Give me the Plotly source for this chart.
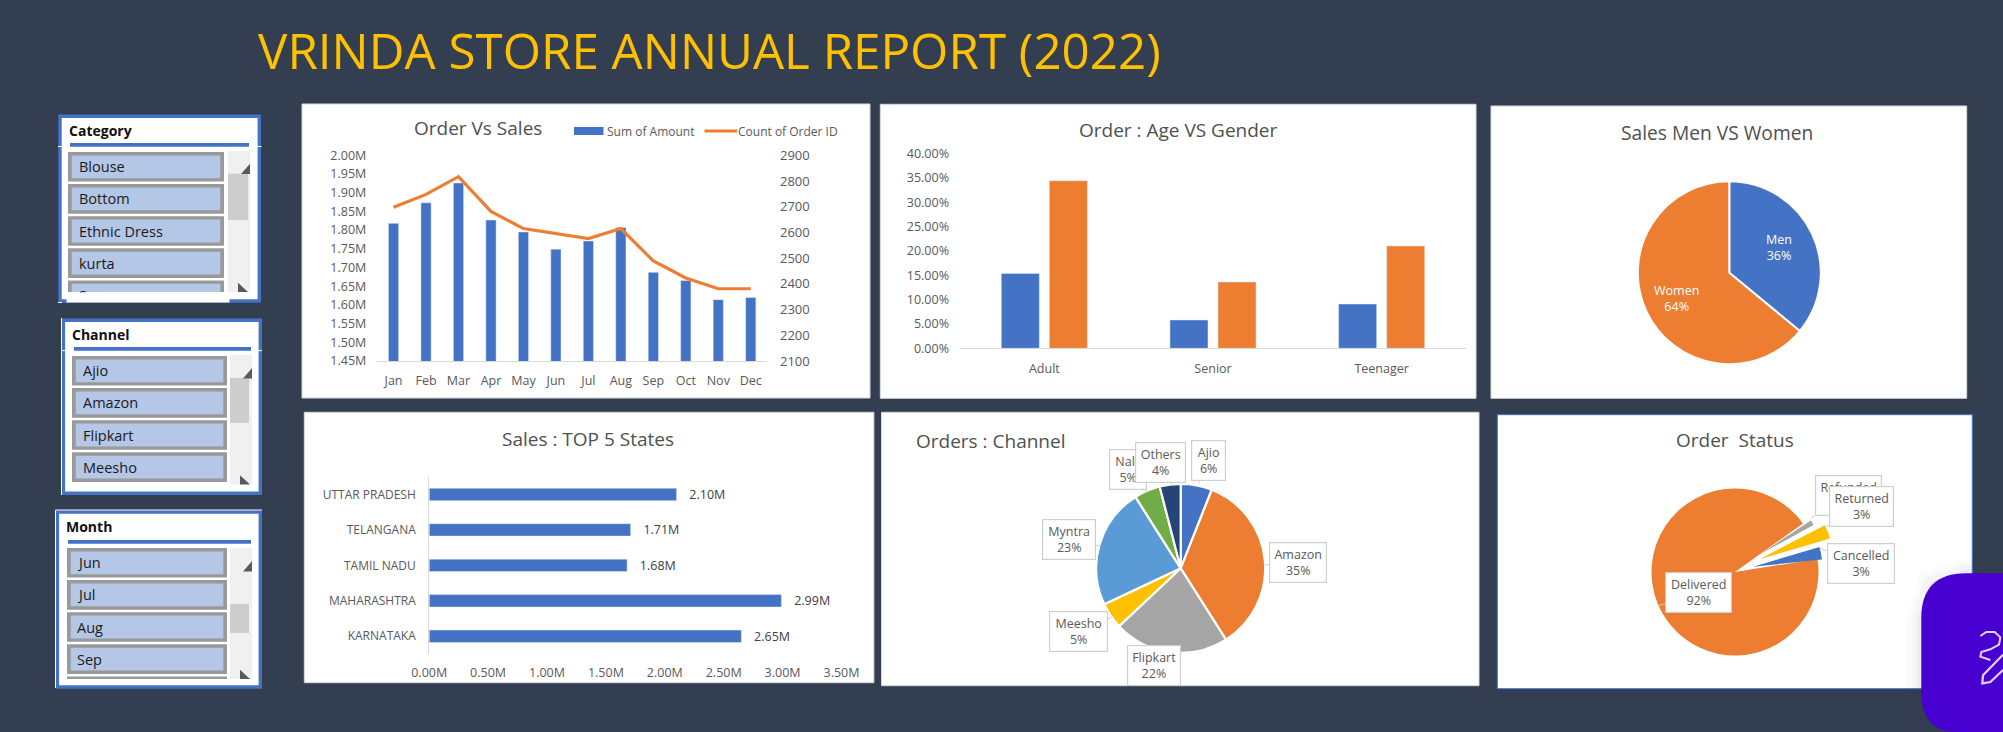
import plotly.graph_objects as go

# ---------- data ----------
months = ["Jan", "Feb", "Mar", "Apr", "May", "Jun", "Jul", "Aug", "Sep", "Oct", "Nov", "Dec"]
sales_m = [1.818, 1.873, 1.926, 1.827, 1.795, 1.749, 1.771, 1.807, 1.687, 1.665, 1.614, 1.620]
orders = [2698, 2748, 2817, 2682, 2615, 2595, 2576, 2615, 2489, 2423, 2381, 2381]

ages = ["Adult", "Senior", "Teenager"]
men_pct = [15.40, 5.82, 9.10]
women_pct = [34.45, 13.63, 21.03]

gender_labels = ["Men", "Women"]
gender_vals = [36, 64]

states = ["KARNATAKA", "MAHARASHTRA", "TAMIL NADU", "TELANGANA", "UTTAR PRADESH"]
state_sales = [2.65, 2.99, 1.68, 1.71, 2.10]

channels = ["Ajio", "Amazon", "Flipkart", "Meesho", "Myntra", "Nalli", "Others"]
channel_vals = [6, 35, 22, 5, 23, 5, 4]

status_labels = ["Delivered", "Refunded", "Returned", "Cancelled"]
status_vals = [91.7, 1.3, 3.1, 2.9]

slicer_category = ["Blouse", "Bottom", "Ethnic Dress", "kurta", "Saree"]
slicer_channel = ["Ajio", "Amazon", "Flipkart", "Meesho"]
slicer_month = ["Jun", "Jul", "Aug", "Sep"]

# ---------- style ----------
BLUE, ORANGE, GREY, GOLD = "#4472c4", "#ed7d31", "#a5a5a5", "#ffc000"
LBLUE, GREEN, NAVY = "#5b9bd5", "#70ad47", "#264478"
BG = "#333f50"
TXT = "#595959"
TITLE = "#505050"
W, H = 2003, 732
FONT = "Open Sans"


def px(x):
    return x / W


def py(y):
    return 1 - y / H


shapes, annos = [], []


def rect(x0, y0, x1, y1, fill=None, line=None, lw=0, layer="below"):
    shapes.append(dict(type="rect", xref="paper", yref="paper", x0=px(x0), x1=px(x1),
                       y0=py(y0), y1=py(y1), fillcolor=fill or "rgba(0,0,0,0)",
                       line=dict(color=line or "rgba(0,0,0,0)", width=lw), layer=layer))


def hline(x0, y0, x1, y1, color, lw=1):
    shapes.append(dict(type="line", xref="paper", yref="paper", x0=px(x0), x1=px(x1),
                       y0=py(y0), y1=py(y1), line=dict(color=color, width=lw), layer="below"))


def path(d, fill=None, line=None, lw=0, layer="below"):
    shapes.append(dict(type="path", path=d, xref="paper", yref="paper",
                       fillcolor=fill or "rgba(0,0,0,0)",
                       line=dict(color=line or "rgba(0,0,0,0)", width=lw), layer=layer))


def pts(points, close=True):
    s = " ".join(("M" if i == 0 else "L") + f" {px(x):.6f} {py(y):.6f}" for i, (x, y) in enumerate(points))
    return s + (" Z" if close else "")


def text(x, y, s, size=12.5, color=TXT, anchor="center", bold=False, bg=None):
    if anchor == "left":
        x -= 2.2
    annos.append(dict(xref="paper", yref="paper", x=px(x), y=py(y), text=f"<b>{s}</b>" if bold else s,
                      showarrow=False, xanchor=anchor, yanchor="middle",
                      font=dict(size=size, color=color, family=FONT), bgcolor=bg))


def callout(cx, cy, w, h, s, tip=None):
    a = dict(xref="paper", yref="paper", text=s, align="center",
             font=dict(size=12.5, color=TXT, family=FONT), bgcolor="white",
             bordercolor="#cfcfcf", borderwidth=1.2, borderpad=0, width=w, height=h,
             valign="middle")
    if tip:
        a.update(x=px(tip[0]), y=py(tip[1]), ax=cx - tip[0], ay=cy - tip[1], showarrow=True,
                 arrowhead=0, arrowwidth=1, arrowcolor="#cfcfcf", standoff=0, startstandoff=0)
    else:
        a.update(x=px(cx), y=py(cy), showarrow=False, xanchor="center", yanchor="middle")
    annos.append(a)


def pie_domain(cx, cy, r):
    return dict(x=[px(cx - r), px(cx + r)], y=[py(cy + r), py(cy - r)])


def slicer(x0, y0, x1, y1, title, head_x, head_y, rule, ix0, ix1, itop, labels, text_x, sb, thumb,
           partial=None, clip=None, whites=()):
    rect(x0, y0, x1, y1, fill=BLUE)
    rect(x0 + 3.4, y0 + 3.4, x1 - 3.4, y1 - 3.4, fill="white")
    for w in whites:
        hline(*w, "white", 1)
    text(head_x, head_y, title, size=14, color="#111111", anchor="left", bold=True)
    rect(rule[0], rule[1], rule[2], rule[1] + 3.8, fill=BLUE)
    pitch, hgt = 32.1, 29.6
    for i, lab in enumerate(labels):
        t = itop + i * pitch
        b = t + hgt
        if clip and b > clip:
            b = clip
        rect(ix0, t, ix1, b, fill="#999999")
        rect(ix0 + 3.7, t + 3.4, ix1 - 3.7, min(b, t + hgt - 3.4), fill="#b4c7e7")
        text(text_x, t + hgt / 2, lab, size=14.5, color="#1a1a1a", anchor="left")
    if partial:
        rect(ix0, partial[0], ix1, partial[1], fill="#999999")
    if clip:
        annos.append(dict(xref="paper", yref="paper", x=px(ix0 - 2), y=py(clip), xanchor="left",
                          yanchor="top", text="\u00a0", showarrow=False, bgcolor="white",
                          width=ix1 - ix0 + 4, height=y1 - 3.4 - clip))
    rect(sb[0], sb[1], sb[2], sb[3], fill="#f0f0f0")
    rect(thumb[0], thumb[1], thumb[2], thumb[3], fill="#cdcdcd")
    path(pts([(sb[2], sb[1] + 13), (sb[2], sb[1] + 23.4), (sb[2] - 9, sb[1] + 23.4)]), fill="#5a5a5a")
    path(pts([(sb[2] - 12, sb[3] - 9.3), (sb[2] - 12, sb[3]), (sb[2] - 2, sb[3])]), fill="#5a5a5a")


# ---------- page furniture ----------
text(709, 49, "VRINDA STORE ANNUAL REPORT (2022)", size=49.3, color=GOLD)

cards = [(302, 104, 870, 398), (880.3, 104.3, 1476, 398.3), (1491, 106, 1966.7, 398.3),
         (304.3, 412.3, 873.9, 682.7), (881.5, 412.3, 1479, 685.7)]
for c in cards:
    rect(*c, fill="white", line="#d3d7de", lw=1)
rect(1497.3, 414.7, 1972.3, 688.7, fill="white", line=BLUE, lw=1)

slicer(58.3, 114.5, 261, 302.7, "Category", 68.7, 130.7, (70, 143, 249), 68, 224, 152,
       slicer_category, 79.3, (228, 150.7, 250, 292), (228, 173.7, 248, 220), clip=292,
       whites=[(58, 146.5, 261.5, 146.5), (58, 302.5, 62, 302.5)])
slicer(61.7, 318.5, 262, 495, "Channel", 72.3, 334.8, (74, 347, 251), 72, 227, 356,
       slicer_channel, 82.7, (230, 355, 252, 484.6), (230, 377.9, 249, 423),
       whites=[(61.5, 350.6, 262, 350.6), (61.5, 318, 61.5, 495)])
slicer(55.7, 510.3, 262, 688.7, "Month", 66.3, 526.5, (68, 540, 251), 67, 227, 548,
       slicer_month, 77, (230, 548, 252, 679), (230, 604, 249, 633), partial=(676.4, 679),
       whites=[(55.5, 510, 262, 510), (55.5, 510, 55.5, 688)])

# titles
text(478, 127.5, "Order Vs Sales", size=19, color=TITLE)
text(1178, 130, "Order : Age VS Gender", size=19, color=TITLE)
text(1716.7, 132.7, "Sales Men VS Women", size=19.2, color=TITLE)
text(588.3, 439, "Sales : TOP 5 States", size=19, color=TITLE)
text(916, 441, "Orders : Channel", size=19, color=TITLE, anchor="left")
text(1735, 440, "Order \u00a0Status", size=19, color=TITLE)

# combo chart key
rect(574, 127, 603.5, 135, fill=BLUE)
text(607, 131, "Sum of Amount", size=12, anchor="left")
hline(704.5, 131, 737, 131, ORANGE, 3.2)
text(738.5, 131, "Count of Order ID", size=12, anchor="left")

fig = go.Figure()

# ---------- combo chart ----------
fig.add_bar(x=months, y=sales_m, name="Sum of Amount", marker_color=BLUE, xaxis="x", yaxis="y", hoverinfo="skip",
            showlegend=False, width=0.315)
fig.add_scatter(x=months, y=orders, name="Count of Order ID", mode="lines", xaxis="x", yaxis="y2", showlegend=False,
                line=dict(color=ORANGE, width=3.2), hoverinfo="skip")

# ---------- clustered columns ----------
fig.add_bar(x=ages, y=men_pct, name="Men", marker_color=BLUE, xaxis="x2", yaxis="y3", showlegend=False,
            offsetgroup="m", hoverinfo="skip", width=0.2256, offset=-0.2553)
fig.add_bar(x=ages, y=women_pct, name="Women", marker_color=ORANGE, xaxis="x2", yaxis="y3", showlegend=False,
            offsetgroup="w", hoverinfo="skip", width=0.2256, offset=0.0297)

# ---------- states ----------
fig.add_bar(y=states, x=state_sales, orientation="h", marker_color=BLUE, xaxis="x3", yaxis="y4", showlegend=False,
            width=0.35, text=[f"\u00a0\u00a0\u00a0{v:.2f}M" for v in state_sales], textposition="outside", cliponaxis=False,
            constraintext="none", textfont=dict(size=12.5, color="#404040", family=FONT), hoverinfo="skip")

# ---------- pies ----------
fig.add_pie(labels=gender_labels, values=gender_vals, sort=False, direction="clockwise", rotation=0,
            marker=dict(colors=[BLUE, ORANGE], line=dict(color="white", width=2)), textinfo="none",
            domain=pie_domain(1729.3, 272.7, 91.5), showlegend=False, hoverinfo="skip")
text(1779, 248, f"{gender_labels[0]}<br>{gender_vals[0]}%", size=12.5, color="white")
text(1676, 299, f"{gender_labels[1]}<br>{gender_vals[1]}%", size=12.5, color="white")

fig.add_pie(labels=channels, values=channel_vals, sort=False, direction="clockwise", rotation=0,
            marker=dict(colors=[BLUE, ORANGE, GREY, GOLD, LBLUE, GREEN, NAVY], line=dict(color="white", width=2.2)),
            textinfo="none", domain=pie_domain(1180.7, 568.3, 84.5), showlegend=False, hoverinfo="skip")


def ch(i):
    return f"{channels[i]}<br>{channel_vals[i]}%"


callout(1127.5, 469, 36, 39, ch(5), tip=(1148, 492.7))
callout(1160, 463, 49, 39, ch(6), tip=(1173.5, 486))
callout(1208.5, 460.5, 33, 39, ch(0), tip=(1198.4, 483.7))
callout(1298, 562, 56, 39, ch(1), tip=(1265, 565))
callout(1154, 665.5, 52, 39, ch(2))
callout(1078.5, 631.5, 57, 39, ch(3), tip=(1112, 617))
callout(1069, 539.5, 52, 39, ch(4), tip=(1100, 546))

status_colors = [ORANGE, GREY, GOLD, BLUE]
status_geo = [(1735, 572, 83.5, 81), (1760, 554.3, 61, 83), (1760, 559, 73, 84.3), (1753.3, 566.7, 69, 84)]
for k, (cx, cy, r, rot) in enumerate(status_geo):
    cols = [status_colors[j] if j == k else "rgba(0,0,0,0)" for j in range(4)]
    fig.add_pie(labels=status_labels, values=status_vals, sort=False, direction="clockwise", rotation=rot,
                marker=dict(colors=cols, line=dict(width=0)), textinfo="none",
                domain=pie_domain(cx, cy, r), showlegend=False, hoverinfo="skip")


def st(i):
    return f"{status_labels[i]}<br>{status_vals[i]:.0f}%"


callout(1848.5, 495.5, 65, 39, st(1), tip=(1810.7, 518.3))
callout(1861.7, 506.5, 63, 39, st(2), tip=(1825.7, 526.7))
callout(1861.3, 563.7, 66, 39, st(3), tip=(1820, 548.3))
callout(1698.5, 592.8, 65, 39, st(0), tip=(1657.7, 606))

# ---------- badge ----------
bl, bt, rad = 1921.3, 573.3, 45
for grow, alpha in [(14, 0.02), (9, 0.03), (4, 0.05)]:
    path(pts([(W, bt - grow), (bl + rad, bt - grow), (bl + 13 - grow, bt + 13 - grow), (bl - grow, bt + rad),
              (bl - grow, H), (W, H)]), fill=f"rgba(60,60,80,{alpha})", layer="above")
path(f"M {px(W)} {py(bt)} L {px(bl + rad)} {py(bt)} Q {px(bl)} {py(bt)} {px(bl)} {py(bt + rad)} "
     f"L {px(bl)} {py(H - 40)} Q {px(bl)} {py(H)} {px(bl + 35)} {py(H)} L {px(W)} {py(H)} Z",
     fill="#4700d0", layer="above")
ix, iy = 1903, 560
sq = [(232, 228), (250, 216), (275, 216), (292, 232), (288, 254), (262, 268), (235, 276), (232, 290), (262, 300)]
path(pts([(ix + a / 3, iy + b / 3) for a, b in sq], close=False), line="#e3d4ff", lw=2, layer="above")
pen = [(300, 284), (240, 346), (238, 370), (262, 366), (300, 330)]
path(pts([(ix + a / 3, iy + b / 3) for a, b in pen], close=False), line="#e3d4ff", lw=2.2, layer="above")

# ---------- layout ----------
tick = dict(size=12.5, color=TXT, family=FONT)
AX = "#d9d9d9"
fig.update_layout(
    width=W, height=H, margin=dict(l=0, r=0, t=0, b=0, autoexpand=False), autosize=False,
    paper_bgcolor=BG, plot_bgcolor="rgba(0,0,0,0)", font=dict(family=FONT, color=TXT),
    barmode="overlay", shapes=shapes, annotations=annos, showlegend=False,
    xaxis=dict(domain=[px(377.3), px(767)], anchor="y", showgrid=False, tickfont=tick, linecolor=AX, showline=True,
               ticks="", ticklabelstandoff=8, categoryorder="array", categoryarray=months),
    yaxis=dict(domain=[py(361), py(155.3)], anchor="x", range=[1.45, 2.00], dtick=0.05, tick0=1.45, showgrid=False,
               tickformat=".2f", ticksuffix="M", tickfont=tick, ticks="", zeroline=False, ticklabelstandoff=10),
    yaxis2=dict(domain=[py(361), py(155.3)], anchor="x", overlaying="y", side="right", range=[2100, 2900], dtick=100,
                showgrid=False, tickfont=dict(size=13, color=TXT, family=FONT), ticks="", zeroline=False,
                ticklabelstandoff=12),
    xaxis2=dict(domain=[px(960), px(1466)], anchor="y3", showgrid=False, tickfont=tick, linecolor=AX, showline=True,
                ticks="", ticklabelstandoff=9),
    yaxis3=dict(domain=[py(348.3), py(153.7)], anchor="x2", range=[0, 40], dtick=5, showgrid=False, tickformat=".2f",
                ticksuffix="%", tickfont=tick, ticks="", zeroline=False, ticklabelstandoff=10),
    xaxis3=dict(domain=[px(429.2), px(841.5)], anchor="y4", range=[0, 3.5], dtick=0.5, showgrid=False, tickformat=".2f",
                ticksuffix="M", tickfont=tick, ticks="", zeroline=False, ticklabelstandoff=9),
    yaxis4=dict(domain=[py(654), py(476.7)], anchor="x3", showgrid=False, tickfont=dict(size=12, color=TXT, family=FONT),
                linecolor=AX, showline=True, ticks="", ticklabelstandoff=10, categoryorder="array", categoryarray=states),
)

fig.write_html("out.html", config=dict(displayModeBar=False),
               post_script="document.body.style.margin='0';document.body.style.overflow='hidden';"
                           f"document.body.style.background='{BG}';")
